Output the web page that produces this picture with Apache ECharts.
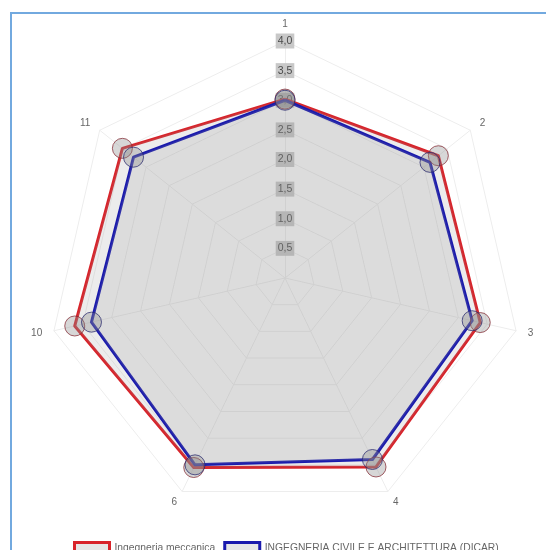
<!DOCTYPE html>
<html>
<head>
<meta charset="utf-8">
<script src="https://cdn.jsdelivr.net/npm/echarts@6/dist/echarts.min.js"></script>
<style>
html,body{margin:0;padding:0;background:#fff;}
#frame{position:absolute;left:10px;top:12px;width:600px;height:600px;border:2px solid #72a9df;box-sizing:border-box;}
#chart{position:absolute;left:0;top:0;width:546px;height:550px;}
</style>
</head>
<body>
<div id="frame"></div>
<div id="chart"></div>
<script>
const categories = ['1', '2', '3', '4', '6', '10', '11'];
const meccanica = [3.02, 3.31, 3.38, 3.54, 3.55, 3.64, 3.51];
const dicar = [3.00, 3.13, 3.24, 3.40, 3.50, 3.35, 3.27];
const seriesNames = ['Ingegneria meccanica', 'INGEGNERIA CIVILE E ARCHITETTURA (DICAR)'];
const maxValue = 4;

// ECharts places indicators counter-clockwise; reorder to get clockwise layout
function cw(arr) { return [arr[0]].concat(arr.slice(1).reverse()); }

const indicators = cw(categories).map((c, i) => {
  const ind = { name: c, max: maxValue, min: 0 };
  if (i === 0) {
    ind.axisLabel = {
      show: true, align: 'center', margin: 0, showMinLabel: false,
      color: '#4a4a4a', fontSize: 10.5, fontFamily: 'Liberation Sans, Arial, sans-serif',
      backgroundColor: '#c8c8c8', padding: [2, 2, 2, 2],
      formatter: v => v === 0 ? '' : v.toFixed(1).replace('.', ',')
    };
  }
  return ind;
});

const chart = echarts.init(document.getElementById('chart'));
chart.setOption({
  animation: false,
  legend: {
    left: 68, top: 536, itemWidth: 35, itemHeight: 12, itemGap: 8,
    textStyle: { color: '#666', fontSize: 10.3, fontFamily: 'Liberation Sans, Arial, sans-serif' },
    data: [
      { name: seriesNames[0], icon: 'rect', itemStyle: { color: '#e6e6e6', borderColor: '#d8232a', borderWidth: 3 } },
      { name: seriesNames[1], icon: 'rect', itemStyle: { color: '#e6e6e6', borderColor: '#1a1aad', borderWidth: 3 } }
    ]
  },
  radar: {
    center: [285, 278], radius: 237, startAngle: 90, shape: 'polygon', splitNumber: 8,
    axisName: { color: '#666', fontSize: 10, fontFamily: 'Liberation Sans, Arial, sans-serif' },
    nameGap: 12,
    splitLine: { lineStyle: { color: '#ededed', width: 1 } },
    splitArea: { show: false },
    axisLine: { lineStyle: { color: '#ededed', width: 1 } },
    axisTick: { show: false },
    axisLabel: { show: false },
    indicator: indicators
  },
  series: [{
    type: 'radar',
    symbol: 'circle', symbolSize: 20,
    data: [
      {
        name: seriesNames[0], value: cw(meccanica),
        lineStyle: { color: '#d8232a', width: 3 },
        areaStyle: { color: 'rgba(150,150,150,0.25)' },
        itemStyle: { color: 'rgba(140,140,140,0.35)', borderColor: 'rgba(130,40,50,0.75)', borderWidth: 1 }
      },
      {
        name: seriesNames[1], value: cw(dicar),
        lineStyle: { color: '#1a1aad', width: 3 },
        areaStyle: { color: 'rgba(150,150,150,0.25)' },
        itemStyle: { color: 'rgba(140,140,140,0.35)', borderColor: 'rgba(40,40,110,0.75)', borderWidth: 1 }
      }
    ]
  }]
});
</script>
</body>
</html>
